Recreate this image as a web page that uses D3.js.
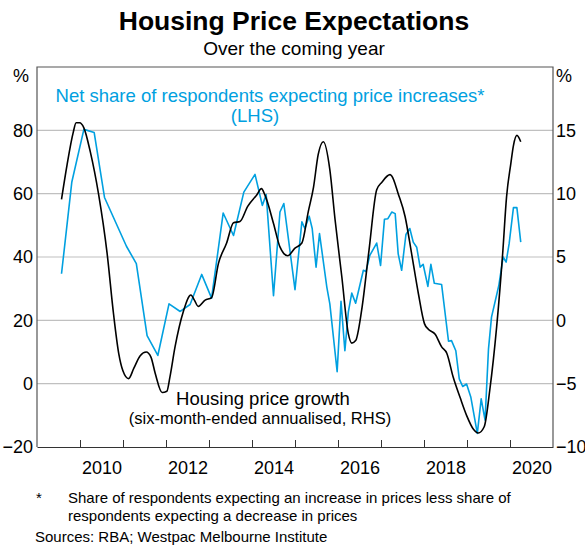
<!DOCTYPE html>
<html><head><meta charset="utf-8">
<script src="https://cdn.jsdelivr.net/npm/d3@7"></script>
<style>
body{margin:0;background:#fff;}
text{font-family:"Liberation Sans",Arial,sans-serif;}
</style></head>
<body><svg id="c" width="585" height="546"></svg>
<script>
// Net share of respondents expecting price increases (LHS, %)
const expectDates = [2009.57,2009.81,2010.09,2010.33,2010.57,2011.08,2011.31,2011.56,2011.81,2012.07,2012.33,2012.56,2012.83,2013.06,2013.33,2013.57,2013.81,2014.07,2014.24,2014.33,2014.50,2014.65,2014.74,2015.00,2015.16,2015.23,2015.33,2015.40,2015.49,2015.57,2015.74,2015.81,2015.98,2016.07,2016.16,2016.24,2016.32,2016.41,2016.59,2016.65,2016.74,2016.90,2016.99,2017.08,2017.16,2017.25,2017.33,2017.40,2017.48,2017.58,2017.67,2017.75,2017.83,2017.91,2017.98,2018.09,2018.16,2018.24,2018.41,2018.57,2018.64,2018.74,2018.82,2018.90,2018.99,2019.09,2019.24,2019.33,2019.42,2019.50,2019.57,2019.74,2019.84,2019.91,2019.98,2020.08,2020.16,2020.25];
const expectValues = [34.7,63.7,80.3,79.3,58.8,43.4,37.9,15.2,8.9,25.2,22.8,25.0,34.5,27.0,53.9,46.8,60.5,66.1,56.3,59.7,27.8,54.2,56.9,29.7,51.1,49.0,52.9,49.0,36.8,47.4,30.5,25.2,3.8,26.0,10.4,22.6,28.6,25.4,35.8,35.4,40.5,44.4,37.3,51.9,52.1,54.2,53.7,41.0,35.8,47.1,49.0,44.7,43.1,36.8,37.7,30.7,37.7,31.7,31.3,13.4,13.6,10.4,1.5,-0.9,-0.1,-4.3,-15.7,-4.8,-11.5,11.0,21.0,31.0,40.0,38.4,44.2,55.6,55.6,44.7];

// Housing price growth, six-month-ended annualised (RHS, %)
const growthDates = [2009.57,2009.70,2009.84,2009.91,2009.99,2010.09,2010.24,2010.43,2010.63,2010.78,2010.90,2011.00,2011.13,2011.25,2011.40,2011.54,2011.65,2011.75,2011.91,2012.02,2012.09,2012.21,2012.40,2012.58,2012.66,2012.75,2012.91,2013.06,2013.22,2013.41,2013.57,2013.72,2013.90,2014.11,2014.22,2014.30,2014.50,2014.65,2014.83,2015.00,2015.16,2015.31,2015.43,2015.54,2015.66,2015.81,2015.93,2016.09,2016.24,2016.32,2016.41,2016.55,2016.72,2016.90,2017.02,2017.21,2017.25,2017.40,2017.56,2017.71,2017.87,2018.01,2018.10,2018.26,2018.41,2018.53,2018.68,2018.84,2018.99,2019.15,2019.26,2019.40,2019.53,2019.69,2019.83,2019.92,2020.02,2020.08,2020.16,2020.25];
const growthValues = [9.55,12.3,14.8,15.6,15.6,15.2,13.3,10.0,5.3,0.5,-2.6,-4.0,-4.6,-3.8,-2.8,-2.5,-2.9,-4.2,-5.7,-5.6,-4.5,-2.1,0.66,2.0,1.6,1.1,1.6,1.8,4.5,6.1,7.7,7.8,9.0,9.9,10.4,9.9,7.65,5.8,5.1,5.7,6.1,8.6,10.5,13.1,14.1,11.9,8.0,3.4,-1.05,-1.8,-1.6,0.8,5.5,10.3,10.9,11.5,11.4,10.0,8.2,5.3,2.1,-0.26,-0.7,-1.1,-2.1,-2.6,-4.5,-6.1,-7.5,-8.6,-8.9,-8.4,-5.5,-0.5,5.3,9.75,12.4,13.8,14.6,14.1];

const leftTicks = [-20,0,20,40,60,80];
const rightTicks = [-10,-5,0,5,10,15];
const gridTicks = [0,20,40,60,80];
const yearTicks = [2010,2011,2012,2013,2014,2015,2016,2017,2018,2019,2020];
const yearLabels = [2010,2012,2014,2016,2018,2020];

const svg = d3.select("#c");
const L=37,R=553,T=67,B=447;
const x = d3.scaleLinear().domain([2009,2021]).range([L,R]);
const yL = d3.scaleLinear().domain([-20,100]).range([B,T]);
const yR = d3.scaleLinear().domain([-10,20]).range([B,T]);
const blue = "#00A0E0";

// title
svg.append("text").attr("x",294).attr("y",30).attr("text-anchor","middle")
  .attr("font-size",26.5).attr("font-weight","bold").text("Housing Price Expectations");
svg.append("text").attr("x",294).attr("y",55).attr("text-anchor","middle")
  .attr("font-size",19).text("Over the coming year");

// gridlines
svg.append("g").selectAll("line").data(gridTicks).join("line")
  .attr("x1",L).attr("x2",R).attr("y1",d=>yL(d)).attr("y2",d=>yL(d))
  .attr("stroke","#c0c0c0").attr("stroke-width",1.2);

// frame
svg.append("path").attr("d",`M${L},${B}V${T}H${R}V${B}`).attr("fill","none")
  .attr("stroke","#555").attr("stroke-width",1.2);

// bottom axis with inward ticks
const gx = svg.append("g").attr("transform",`translate(0,${B})`)
  .call(d3.axisBottom(x).tickValues(yearTicks).tickSizeInner(-7).tickSizeOuter(0).tickFormat(""));
gx.select(".domain").attr("stroke","#333").attr("stroke-width",1.2);
gx.selectAll(".tick line").attr("stroke","#333");

const gxl = svg.append("g").attr("transform",`translate(0,${B})`)
  .call(d3.axisBottom(x).tickValues(yearLabels.map(d=>d+0.5)).tickSize(0).tickPadding(14).tickFormat(d=>Math.floor(d)));
gxl.select(".domain").remove();
gxl.selectAll("text").attr("font-size",18).attr("fill","#000").attr("font-family","Liberation Sans, Arial, sans-serif");

// left axis labels
const gl = svg.append("g").attr("transform",`translate(${L},0)`)
  .call(d3.axisLeft(yL).tickValues(leftTicks).tickSize(0).tickPadding(4).tickFormat(d3.format("d")));
gl.select(".domain").remove();
gl.selectAll("text").attr("font-size",18).attr("fill","#000").attr("font-family","Liberation Sans, Arial, sans-serif");

// right axis labels
const gr = svg.append("g").attr("transform",`translate(${R},0)`)
  .call(d3.axisRight(yR).tickValues(rightTicks).tickSize(0).tickPadding(3).tickFormat(d3.format("d")));
gr.select(".domain").remove();
gr.selectAll("text").attr("font-size",18).attr("fill","#000").attr("font-family","Liberation Sans, Arial, sans-serif");

svg.append("text").attr("x",29).attr("y",82).attr("text-anchor","end").attr("font-size",18).text("%");
svg.append("text").attr("x",556).attr("y",82).attr("text-anchor","start").attr("font-size",18).text("%");

// lines
const blueData = expectDates.map((d,i)=>[d,expectValues[i]]);
const blackData = growthDates.map((d,i)=>[d,growthValues[i]]);
svg.append("path").datum(blueData).attr("fill","none").attr("stroke",blue).attr("stroke-width",1.6)
  .attr("stroke-linejoin","round")
  .attr("d",d3.line().x(d=>x(d[0])).y(d=>yL(d[1])));
svg.append("path").datum(blackData).attr("fill","none").attr("stroke","#000").attr("stroke-width",1.6)
  .attr("d",d3.line().curve(d3.curveMonotoneX).x(d=>x(d[0])).y(d=>yR(d[1])));

// series labels
svg.append("text").attr("x",270).attr("y",102).attr("text-anchor","middle").attr("font-size",18.5)
  .attr("fill",blue).text("Net share of respondents expecting price increases*");
svg.append("text").attr("x",255).attr("y",122).attr("text-anchor","middle").attr("font-size",18.5)
  .attr("fill",blue).text("(LHS)");
svg.append("text").attr("x",263).attr("y",405).attr("text-anchor","middle").attr("font-size",18.5)
  .text("Housing price growth");
svg.append("text").attr("x",260).attr("y",424).attr("text-anchor","middle").attr("font-size",16.5)
  .text("(six-month-ended annualised, RHS)");

// footnotes
svg.append("text").attr("x",36).attr("y",503).attr("font-size",15).text("*");
svg.append("text").attr("x",68).attr("y",503).attr("font-size",15)
  .text("Share of respondents expecting an increase in prices less share of");
svg.append("text").attr("x",68).attr("y",521).attr("font-size",15)
  .text("respondents expecting a decrease in prices");
svg.append("text").attr("x",35).attr("y",542).attr("font-size",15)
  .text("Sources: RBA; Westpac Melbourne Institute");
</script></body></html>
